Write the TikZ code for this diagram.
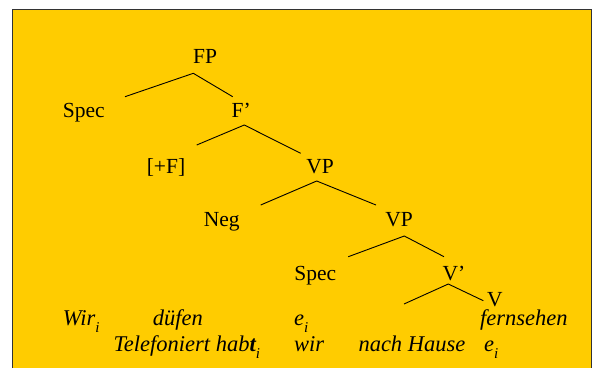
\documentclass[tikz,border=0pt]{standalone}
\usepackage{fontspec}
\setmainfont{Liberation Serif}
\definecolor{panel}{HTML}{FFCC00}
\definecolor{frame}{HTML}{333333}
\newcommand{\idx}[1]{\raisebox{-0.32em}{\fontsize{15}{15}\selectfont\itshape #1}}
\tikzset{
  cat/.style={inner sep=0pt, anchor=base, font=\fontsize{21.5}{24}\selectfont},
  word/.style={inner sep=0pt, anchor=base west, font=\fontsize{22.5}{25}\selectfont\itshape},
  branch/.style={draw=black, line width=0.9pt}
}
\begin{document}
\begin{tikzpicture}[x=1pt, y=-1pt]
  \useasboundingbox (0,0) rectangle (596,367);
  % background panel, open at the bottom
  \fill[panel] (12.5,9.5) rectangle (591.5,380);
  \draw[frame, line width=1.4pt] (12.5,380) -- (12.5,9.5) -- (591.5,9.5) -- (591.5,380);

  % category labels
  \node[cat] (fp)    at (205,63)    {FP};
  \node[cat] (spec1) at (83.8,117)  {Spec};
  \node[cat] (fbar)  at (241.3,117) {F’};
  \node[cat] (plusf) at (166,173.3) {[+F]};
  \node[cat] (vp1)   at (320,173.3) {VP};
  \node[cat] (neg)   at (221.7,226) {Neg};
  \node[cat] (vp2)   at (399,226)   {VP};
  \node[cat] (spec2) at (315.3,280) {Spec};
  \node[cat] (vbar)  at (454,280)   {V’};
  \node[cat] (v)     at (495,306)   {V};

  % branch points
  \coordinate (a1) at (193.3,73.3);  \coordinate (l1) at (125,96.7);   \coordinate (r1) at (232.7,96.7);
  \coordinate (a2) at (244.3,125);   \coordinate (l2) at (196.7,145);  \coordinate (r2) at (300.7,153.3);
  \coordinate (a3) at (316.7,181);   \coordinate (l3) at (260.7,205);  \coordinate (r3) at (376,205);
  \coordinate (a4) at (404.3,236);   \coordinate (l4) at (348.3,256.7);\coordinate (r4) at (444,256.7);
  \coordinate (a5) at (448.3,284);   \coordinate (l5) at (404,304);    \coordinate (r5) at (483.3,300.7);

  \draw[branch] (l1) -- (a1) -- (r1);
  \draw[branch] (l2) -- (a2) -- (r2);
  \draw[branch] (l3) -- (a3) -- (r3);
  \draw[branch] (l4) -- (a4) -- (r4);
  \draw[branch] (l5) -- (a5) -- (r5);

  % example sentences
  \node[word] (w1) at (62.7,325)   {Wir\idx{i}};
  \node[word] (w2) at (152.7,325)  {düfen};
  \node[word] (w3) at (294,325)    {e\idx{i}};
  \node[word] (w4) at (480,325)    {fernsehen};
  \node[word] (w5) at (113.3,351.7){Telefoniert hab\textbf{t}\idx{i}};
  \node[word] (w6) at (294,351.7)  {wir};
  \node[word] (w7) at (358.3,351.7){nach Hause};
  \node[word] (w8) at (484,351.7)  {e\idx{i}};
\end{tikzpicture}
\end{document}
